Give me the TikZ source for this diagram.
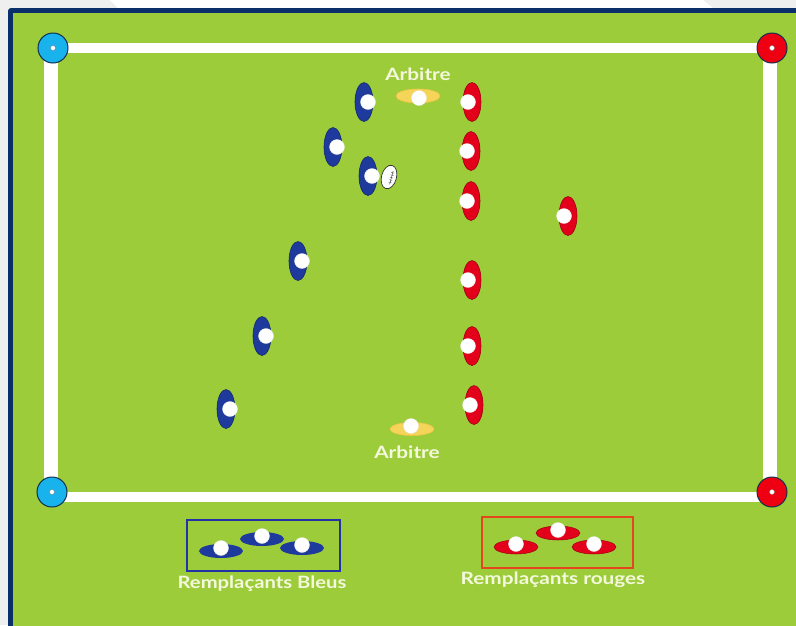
\documentclass[tikz,border=0pt]{standalone}
\usepackage{fontspec}
\setmainfont{Lato}
\usetikzlibrary{shapes.geometric}
\begin{document}
\begin{tikzpicture}[x=1pt,y=-1pt,
  field/.style={fill=fieldgreen},
  line/.style={fill=white,draw=none},
  cone/.style={draw=conedark,line width=1pt},
  conedot/.style={fill=white,draw=gray,line width=0.4pt},
  pblue/.style={fill=plblue,draw=plblue!70!black,line width=0.6pt},
  pred/.style={fill=plred,draw=plred!70!black,line width=0.6pt},
  pdot/.style={fill=white,draw=white!85!gray,line width=0.3pt},
  ref/.style={fill=refyellow,draw=refyellow!80!orange,line width=0.6pt},
  lbl/.style={text=lbltext,font=\bfseries\fontsize{17}{19}\selectfont,inner sep=0pt}
]
\definecolor{fieldgreen}{HTML}{9DCC3A}
\definecolor{navy}{HTML}{0B2F6B}
\definecolor{conedark}{HTML}{123050}
\definecolor{coneblue}{HTML}{18B2EC}
\definecolor{conered}{HTML}{EE0012}
\definecolor{plblue}{HTML}{1E3A9C}
\definecolor{plred}{HTML}{E2001A}
\definecolor{refyellow}{HTML}{F4D55A}
\definecolor{lbltext}{HTML}{F4F8DC}
\definecolor{boxblue}{HTML}{2233A8}
\definecolor{boxred}{HTML}{E4461E}
\definecolor{bggray}{HTML}{EFEFEF}
\useasboundingbox (0,0) rectangle (796,625);
% background
\fill[bggray] (0,0) rectangle (796,625);
\fill[white] (110,0) -- (118,8) -- (713,8) -- (703,0) -- cycle;
\fill[navy,rounded corners=3pt] (8,8) rectangle (810,640);
\fill[field] (13,13) rectangle (810,640);
% white lines
\fill[line] (45,42.5) rectangle (777,52.5);
\fill[line] (45,492) rectangle (777,502);
\fill[line] (44,42.5) rectangle (58,502);
\fill[line] (763,42.5) rectangle (777,502);
% corner cones
\foreach \nm/\x/\y/\c in {cTL/53/48/coneblue,cBL/52/492/coneblue,cTR/772/48/conered,cBR/772/492/conered}{
  \node[circle,minimum size=30pt,inner sep=0pt,cone,fill=\c] (\nm) at (\x,\y) {};
  \node[circle,minimum size=5pt,inner sep=0pt,conedot] at (\nm) {};
}
% blue players
\foreach \nm/\x/\y in {b1/364/102,b2/333/147,b3/368/176,b4/298/261,b5/262/336,b6/226/409}{
  \node[ellipse,minimum width=18pt,minimum height=39pt,inner sep=0pt,pblue,draw] (\nm) at (\x,\y) {};
  \fill[pdot] (\x+4,\y) circle (7.5);
}
% red players
\foreach \nm/\x/\y in {r1/472/102,r2/471/151,r3/471/201,r4/472/280,r5/472/346,r6/474/405,r7/568/216}{
  \node[ellipse,minimum width=18pt,minimum height=39pt,inner sep=0pt,pred,draw] (\nm) at (\x,\y) {};
  \fill[pdot] (\x-4,\y) circle (7.5);
}
% ball
\begin{scope}[shift={(389,177)},rotate=-15]
  \fill[white,draw=black!80,line width=0.7pt] (0,0) ellipse (7.5 and 12);
  \draw[black!70,line width=0.5pt] (2.5,-7) -- (2.5,7);
  \foreach \t in {-5,-2.5,0,2.5,5}{\draw[black!70,line width=0.4pt] (1,\t) -- (4,\t);}
\end{scope}
% referees
\fill[ref] (418,96) ellipse (22 and 7);
\fill[pdot] (419,98) circle (7.5);
\node[lbl] (a1) at (418,74) {\scalebox{1.22}[1]{Arbitre}};
\fill[ref] (412,429) ellipse (22 and 6.5);
\fill[pdot] (411,426) circle (7.5);
\node[lbl] (a2) at (407,452) {\scalebox{1.22}[1]{Arbitre}};
% substitutes boxes
\draw[boxblue,line width=2pt] (187,520) rectangle (340,571);
\foreach \x/\y in {221/551,262/539,302/548}{
  \fill[plblue] (\x,\y) ellipse (22 and 7);
  \fill[pdot] (\x,\y-3) circle (7.5);
}
\node[lbl] (sb) at (262,584) {\scalebox{1.19}[1]{Remplaçants Bleus}};
\draw[boxred,line width=1.5pt] (482,517) rectangle (633,568);
\foreach \x/\y in {516/547,558/533,594/547}{
  \fill[plred,draw=plred!70!black,line width=0.5pt] (\x,\y) ellipse (22 and 7);
  \fill[pdot] (\x,\y-3) circle (7.5);
}
\node[lbl] (sr) at (553,580) {\scalebox{1.22}[1]{Remplaçants rouges}};
\end{tikzpicture}
\end{document}
